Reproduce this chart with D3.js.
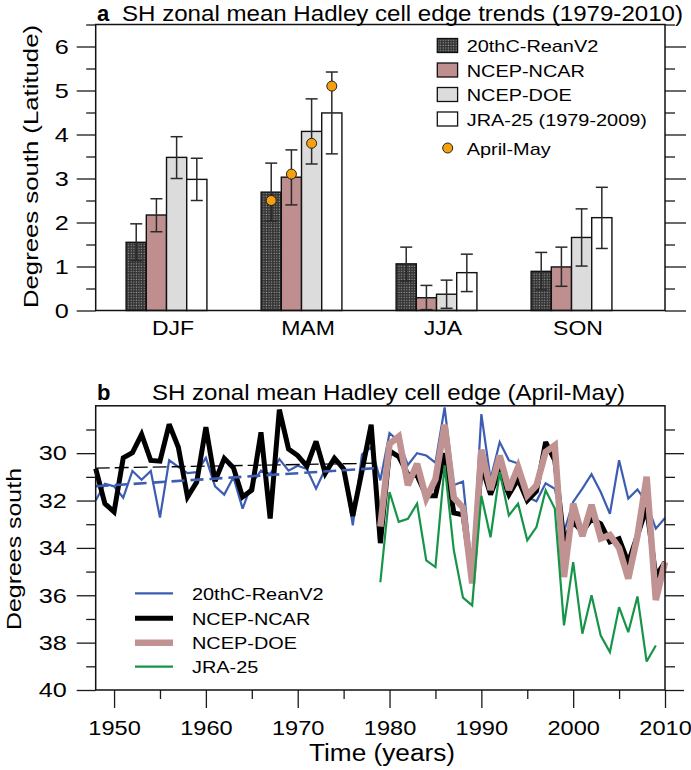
<!DOCTYPE html>
<html><head><meta charset="utf-8">
<script src="https://cdn.jsdelivr.net/npm/d3@7"></script>
<style>html,body{margin:0;padding:0;background:#fff;}svg{display:block;}</style>
</head><body>
<script>
// ---------- Panel a data ----------
const seasons = ["DJF", "MAM", "JJA", "SON"];
const seriesNamesA = ["20thC-ReanV2", "NCEP-NCAR", "NCEP-DOE", "JRA-25 (1979-2009)"];
const rean20Trend = [1.55, 2.69, 1.06, 0.89];
const rean20Lo    = [1.13, 2.03, 0.67, 0.47];
const rean20Hi    = [1.97, 3.35, 1.44, 1.32];
const ncarTrend   = [2.17, 3.03, 0.29, 0.99];
const ncarLo      = [1.79, 2.40, 0.02, 0.55];
const ncarHi      = [2.54, 3.65, 0.57, 1.44];
const doeTrend    = [3.48, 4.07, 0.37, 1.66];
const doeLo       = [3.00, 3.33, 0.05, 1.01];
const doeHi       = [3.95, 4.81, 0.69, 2.31];
const jraTrend    = [2.98, 4.49, 0.86, 2.11];
const jraLo       = [2.50, 3.56, 0.43, 1.41];
const jraHi       = [3.46, 5.42, 1.28, 2.80];
const aprilMay    = [2.5, 3.1, 3.8, 5.1];   // one per series, MAM group
const yTicksA = [0, 1, 2, 3, 4, 5, 6];
const yMinorA = [0.5, 1.5, 2.5, 3.5, 4.5, 5.5, 6.5];

// ---------- Panel b data ----------
const rean20Start = 1948, ncarStart = 1948, doeStart = 1979, jraStart = 1979;
const rean20Edge = [32.0, 31.29, 31.4, 31.88, 30.75, 31.12, 30.75, 32.72, 30.3, 30.58,
  30.84, 30.8, 30.2, 31.4, 31.75, 31.01, 32.34, 31.29, 30.74, 30.88,
  30.25, 30.74, 30.53, 30.67, 31.5, 30.67, 30.32, 30.6, 33.05, 30.05,
  29.75, 31.15, 29.15, 29.5, 30.5, 30.0, 30.1, 30.4, 28.07, 31.35,
  31.2, 35.0, 28.35, 31.1, 29.53, 30.3, 30.44, 31.85, 32.03, 31.27,
  31.5, 33.33, 32.06, 31.5, 30.89, 31.64, 32.56, 30.3, 31.92, 31.53,
  32.1, 33.19, 32.74];
const ncarEdge = [30.65, 32.13, 32.48, 30.2, 29.98, 29.21, 30.31, 30.34, 28.78, 29.75,
  31.85, 31.22, 28.9, 31.18, 30.22, 30.62, 31.85, 31.56, 29.12, 32.76,
  28.16, 29.82, 30.1, 30.55, 29.5, 30.85, 30.21, 30.66, 32.65, 30.75,
  28.8, 33.8, 29.9, 30.15, 30.9, 30.95, 31.8, 31.8, 30.0, 32.52,
  32.6, 35.3, 30.5, 31.75, 30.75, 31.75, 31.1, 32.0, 31.6, 29.53,
  30.3, 33.7, 32.9, 33.33, 32.77, 32.98, 33.75, 33.61, 34.62, 33.47,
  32.3, 35.2, 34.6];
const doeEdge = [33.1, 29.6, 29.3, 31.35, 30.45, 31.9, 31.1, 28.8, 31.88, 32.3,
  35.5, 29.85, 31.55, 30.1, 31.55, 30.59, 31.78, 31.36, 29.95, 29.67,
  35.23, 32.13, 33.5, 32.18, 33.6, 33.45, 34.0, 35.3, 33.5, 31.0,
  36.2, 34.6];
const jraEdge = [35.45, 31.64, 32.9, 32.77, 32.13, 34.53, 34.81, 30.51, 34.1, 36.1,
  36.43, 31.8, 33.55, 30.8, 32.63, 32.13, 33.68, 33.12, 31.57, 32.34,
  37.27, 34.6, 37.62, 36.0, 37.7, 38.4, 36.5, 37.56, 36.05, 38.8,
  38.12];
const trendYears = [1948, 1979];
const ncarTrendLine = [30.63, 30.42];
const rean20TrendLine = [31.40, 30.62];
const seriesNamesB = ["20thC-ReanV2", "NCEP-NCAR", "NCEP-DOE", "JRA-25"];
const xTicksB = [1950, 1960, 1970, 1980, 1990, 2000, 2010];
const xMinorB = [1955, 1965, 1975, 1985, 1995, 2005];
const yTicksB = [30, 32, 34, 36, 38, 40];
const yMinorB = [29, 31, 33, 35, 37, 39];

// ---------- styles ----------
const FONT = "'Liberation Sans', Arial, Helvetica, sans-serif";
const colNcarBar = "#bf8e8e", colDoeBar = "#dcdcdc", colJraBar = "#ffffff";
const colBlue = "#3d5db3", colBlack = "#000000", colPink = "#c09291", colGreen = "#169447";
const colDot = "#f5a00c";

const svg = d3.select("body").append("svg").attr("width", 691).attr("height", 770)
  .attr("font-family", FONT);
svg.append("rect").attr("width", 691).attr("height", 770).attr("fill", "#fff");

const defs = svg.append("defs");
const pat = defs.append("pattern").attr("id", "stip").attr("patternUnits", "userSpaceOnUse")
  .attr("width", 2.6).attr("height", 2.6);
pat.append("rect").attr("width", 2.6).attr("height", 2.6).attr("fill", "#303030");
pat.append("rect").attr("x", 0.6).attr("y", 0.6).attr("width", 1.2).attr("height", 1.2).attr("fill", "#9a9a9a");

function stretchK(sel, k) {
  sel.each(function () {
    const L = this.getComputedTextLength();
    this.setAttribute("textLength", (L * k).toFixed(2));
    this.setAttribute("lengthAdjust", "spacingAndGlyphs");
  });
  return sel;
}
function stretchTo(sel, target) {
  sel.attr("textLength", target).attr("lengthAdjust", "spacingAndGlyphs");
  return sel;
}
function cleanAxis(g, fs) {
  g.select(".domain").remove();
  g.attr("font-family", FONT).attr("font-size", fs).attr("color", "#1a1a1a");
  g.selectAll(".tick line").attr("stroke-width", 1.3);
  g.selectAll(".tick text").attr("fill", "#000");
}

// =============== Panel a ===============
const xA = d3.scaleLinear().domain([0.431, 4.648]).range([95.7, 665]);
const yA = d3.scaleLinear().domain([0, 6.5]).range([310.5, 24.5]);
const gA = svg.append("g");
const bw = 20.2, groupShift = -6;

const barSeries = [
  { name: seriesNamesA[0], v: rean20Trend, lo: rean20Lo, hi: rean20Hi, fill: "url(#stip)" },
  { name: seriesNamesA[1], v: ncarTrend, lo: ncarLo, hi: ncarHi, fill: colNcarBar },
  { name: seriesNamesA[2], v: doeTrend, lo: doeLo, hi: doeHi, fill: colDoeBar },
  { name: seriesNamesA[3], v: jraTrend, lo: jraLo, hi: jraHi, fill: colJraBar }
];
const barX = (c, i) => xA(c + 1) + (i - 2) * bw + groupShift;

barSeries.forEach((s, i) => {
  seasons.forEach((sea, c) => {
    gA.append("rect")
      .attr("x", barX(c, i)).attr("width", bw)
      .attr("y", yA(s.v[c])).attr("height", yA(0) - yA(s.v[c]))
      .attr("fill", s.fill).attr("stroke", "#111").attr("stroke-width", 1.4);
  });
});
// error bars
barSeries.forEach((s, i) => {
  seasons.forEach((sea, c) => {
    const cx = barX(c, i) + bw / 2;
    const eg = gA.append("g").attr("stroke", "#2a2a2a").attr("stroke-width", 1.5);
    eg.append("line").attr("x1", cx).attr("x2", cx).attr("y1", yA(s.lo[c])).attr("y2", yA(s.hi[c]));
    eg.append("line").attr("x1", cx - 6).attr("x2", cx + 6).attr("y1", yA(s.lo[c])).attr("y2", yA(s.lo[c]));
    eg.append("line").attr("x1", cx - 6).attr("x2", cx + 6).attr("y1", yA(s.hi[c])).attr("y2", yA(s.hi[c]));
  });
});
// April-May dots (MAM group)
aprilMay.forEach((v, i) => {
  gA.append("circle").attr("cx", barX(1, i) + bw / 2).attr("cy", yA(v)).attr("r", 5)
    .attr("fill", colDot).attr("stroke", "#222").attr("stroke-width", 1);
});

// axes a
gA.append("g").attr("transform", "translate(95.7,0)")
  .call(d3.axisLeft(yA).tickValues(yTicksA).tickSize(19).tickPadding(8).tickFormat(d3.format("d")))
  .call(g => cleanAxis(g, 21))
  .call(g => stretchK(g.selectAll(".tick text"), 1.2));
gA.append("g").attr("transform", "translate(95.7,0)")
  .call(d3.axisLeft(yA).tickValues(yMinorA).tickSize(9.5).tickFormat(""))
  .call(g => cleanAxis(g, 10));
gA.append("g").attr("transform", "translate(665,0)")
  .call(d3.axisRight(yA).tickValues(yTicksA).tickSize(21).tickFormat(""))
  .call(g => cleanAxis(g, 10));
gA.append("g").attr("transform", "translate(665,0)")
  .call(d3.axisRight(yA).tickValues(yMinorA).tickSize(10).tickFormat(""))
  .call(g => cleanAxis(g, 10));
gA.append("g").attr("transform", "translate(0,310.5)")
  .call(d3.axisBottom(xA).tickValues([1, 2, 3, 4]).tickSize(0).tickPadding(10)
    .tickFormat(d => seasons[d - 1]))
  .call(g => cleanAxis(g, 20))
  .call(g => stretchK(g.selectAll(".tick text"), 1.15));
gA.append("rect").attr("x", 95.7).attr("y", 24.5).attr("width", 665 - 95.7).attr("height", 310.5 - 24.5)
  .attr("fill", "none").attr("stroke", "#111").attr("stroke-width", 1.5);

// title a
svg.append("text").attr("x", 97).attr("y", 20.5).attr("font-size", 22).attr("font-weight", "bold").text("a");
stretchTo(svg.append("text").attr("x", 122).attr("y", 20.5).attr("font-size", 22)
  .text("SH zonal mean Hadley cell edge trends (1979-2010)"), 561);
// y label a
stretchTo(svg.append("text").attr("transform", "translate(38,166.5) rotate(-90)")
  .attr("text-anchor", "middle").attr("font-size", 21).text("Degrees south (Latitude)"), 283);

// legend a
const legA = svg.append("g");
const legARows = [45.5, 70, 94.5, 119];
barSeries.forEach((s, i) => {
  legA.append("rect").attr("x", 437.3).attr("y", legARows[i] - 7).attr("width", 20.3).attr("height", 14)
    .attr("fill", s.fill).attr("stroke", "#111").attr("stroke-width", 1.3);
  stretchK(legA.append("text").attr("x", 466.7).attr("y", legARows[i] + 6.5).attr("font-size", 17).text(s.name), 1.17);
});
legA.append("circle").attr("cx", 447.7).attr("cy", 148).attr("r", 5).attr("fill", colDot)
  .attr("stroke", "#222").attr("stroke-width", 1);
stretchK(legA.append("text").attr("x", 466.7).attr("y", 154.5).attr("font-size", 17).text("April-May"), 1.17);

// =============== Panel b ===============
const xB = d3.scaleLinear().domain([1948, 2010]).range([95.7, 665]);
const yB = d3.scaleLinear().domain([28, 40]).range([405.8, 690]);
const gB = svg.append("g");
const toPts = (start, arr) => arr.map((v, i) => [start + i, v]);
const line = d3.line().x(d => xB(d[0])).y(d => yB(d[1]));

const linesB = [
  { name: seriesNamesB[0], pts: toPts(rean20Start, rean20Edge), color: colBlue, w: 2.2 },
  { name: seriesNamesB[1], pts: toPts(ncarStart, ncarEdge), color: colBlack, w: 5 },
  { name: seriesNamesB[2], pts: toPts(doeStart, doeEdge), color: colPink, w: 6.5 },
  { name: seriesNamesB[3], pts: toPts(jraStart, jraEdge), color: colGreen, w: 2.2 }
];
linesB.forEach(s => {
  gB.append("path").attr("d", line(s.pts)).attr("fill", "none").attr("stroke", s.color)
    .attr("stroke-width", s.w).attr("stroke-linejoin", "miter").attr("stroke-miterlimit", 3);
});
// trend lines
gB.append("path").attr("d", line(trendYears.map((y, i) => [y, ncarTrendLine[i]])))
  .attr("fill", "none").attr("stroke", "#000").attr("stroke-width", 1.3).attr("stroke-dasharray", "14,5");
gB.append("path").attr("d", line(trendYears.map((y, i) => [y, rean20TrendLine[i]])))
  .attr("fill", "none").attr("stroke", colBlue).attr("stroke-width", 2.6).attr("stroke-dasharray", "13,6");

// axes b
gB.append("g").attr("transform", "translate(95.7,0)")
  .call(d3.axisLeft(yB).tickValues(yTicksB).tickSize(19).tickPadding(10).tickFormat(d3.format("d")))
  .call(g => cleanAxis(g, 21))
  .call(g => stretchK(g.selectAll(".tick text"), 1.2));
gB.append("g").attr("transform", "translate(95.7,0)")
  .call(d3.axisLeft(yB).tickValues(yMinorB).tickSize(9.5).tickFormat(""))
  .call(g => cleanAxis(g, 10));
gB.append("g").attr("transform", "translate(665,0)")
  .call(d3.axisRight(yB).tickValues(yTicksB).tickSize(19).tickFormat(""))
  .call(g => cleanAxis(g, 10));
gB.append("g").attr("transform", "translate(665,0)")
  .call(d3.axisRight(yB).tickValues(yMinorB).tickSize(10).tickFormat(""))
  .call(g => cleanAxis(g, 10));
gB.append("g").attr("transform", "translate(0,690)")
  .call(d3.axisBottom(xB).tickValues(xTicksB).tickSize(18).tickPadding(13).tickFormat(d3.format("d")))
  .call(g => cleanAxis(g, 20))
  .call(g => stretchK(g.selectAll(".tick text"), 1.18));
gB.append("g").attr("transform", "translate(0,690)")
  .call(d3.axisBottom(xB).tickValues(xMinorB).tickSize(9).tickFormat(""))
  .call(g => cleanAxis(g, 10));
gB.append("rect").attr("x", 95.7).attr("y", 405.8).attr("width", 665 - 95.7).attr("height", 690 - 405.8)
  .attr("fill", "none").attr("stroke", "#111").attr("stroke-width", 1.5);

// title b
svg.append("text").attr("x", 97).attr("y", 400).attr("font-size", 22).attr("font-weight", "bold").text("b");
stretchTo(svg.append("text").attr("x", 152).attr("y", 400).attr("font-size", 22)
  .text("SH zonal mean Hadley cell edge (April-May)"), 473);
// axis labels b
stretchTo(svg.append("text").attr("transform", "translate(21,549) rotate(-90)")
  .attr("text-anchor", "middle").attr("font-size", 21).text("Degrees south"), 162);
stretchTo(svg.append("text").attr("x", 382).attr("y", 761).attr("text-anchor", "middle")
  .attr("font-size", 23).text("Time (years)"), 146);

// legend b
const legBRows = [593.3, 618.3, 642.7, 666.7];
linesB.forEach((s, i) => {
  gB.append("line").attr("x1", 135).attr("x2", 173).attr("y1", legBRows[i]).attr("y2", legBRows[i])
    .attr("stroke", s.color).attr("stroke-width", s.w);
  stretchK(gB.append("text").attr("x", 192).attr("y", legBRows[i] + 6.5).attr("font-size", 17).text(s.name), 1.17);
});
</script>
</body></html>
